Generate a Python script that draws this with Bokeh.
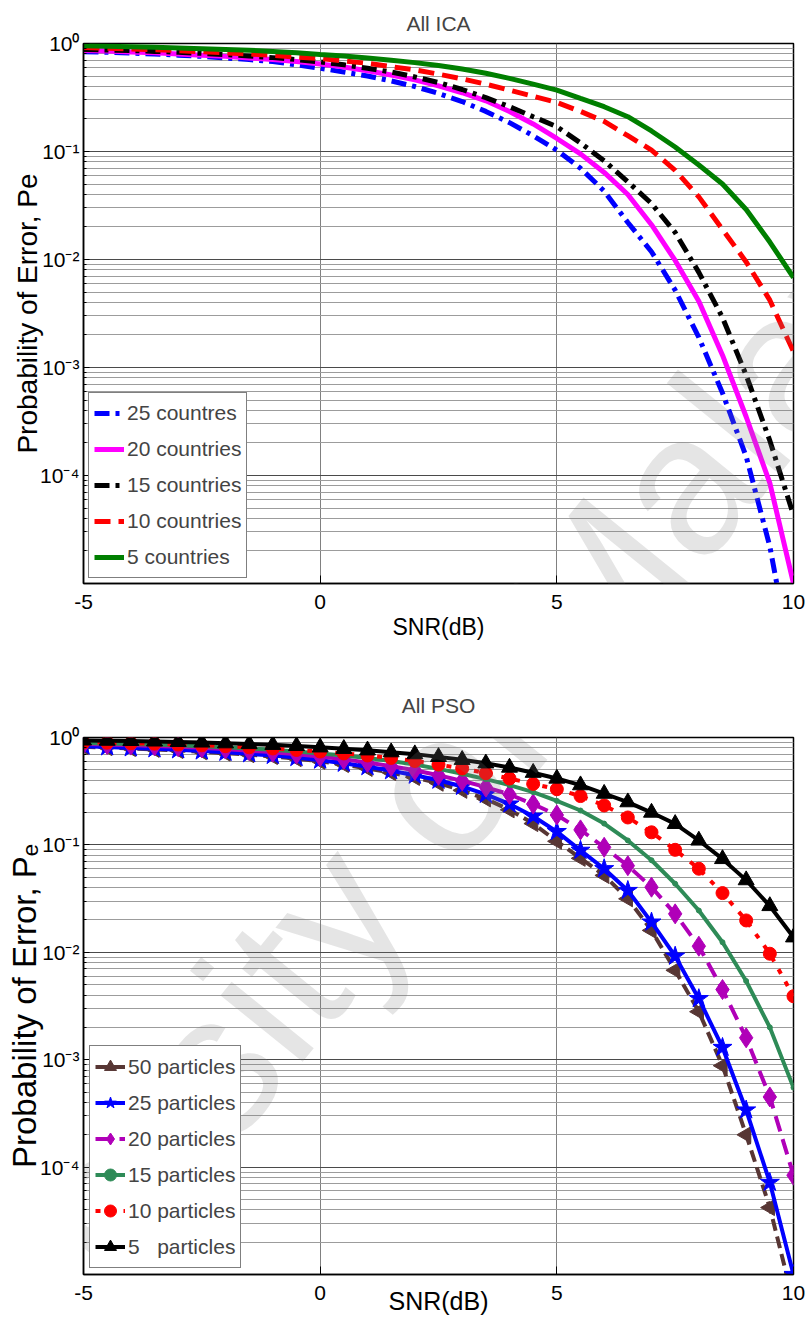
import math

from bokeh.embed import file_html
from bokeh.layouts import column
from bokeh.models import (CustomJSTickFormatter, FixedTicker, Label, Legend,
                          LegendItem, Range1d)
from bokeh.plotting import figure
from bokeh.resources import INLINE

# ---------------------------------------------------------------- data
snr_db = [-5.0, -4.5, -4.0, -3.5, -3.0, -2.5, -2.0, -1.5, -1.0, -0.5,
          0.0, 0.5, 1.0, 1.5, 2.0, 2.5, 3.0, 3.5, 4.0, 4.5,
          5.0, 5.5, 6.0, 6.5, 7.0, 7.5, 8.0, 8.5, 9.0, 9.5, 10.0]

# ICA: error probability for different numbers of countries
ica_25 = [0.84, 0.83, 0.815, 0.80, 0.78, 0.76, 0.735, 0.71, 0.68, 0.635,
          0.59, 0.545, 0.50, 0.45, 0.40, 0.345, 0.29, 0.235, 0.185, 0.14,
          0.103, 0.07, 0.043, 0.022, 0.0118, 0.0052, 0.0019, 0.00058, 0.00015,
          0.000022, 0.0000015]
ica_20 = [0.86, 0.85, 0.835, 0.82, 0.80, 0.78, 0.76, 0.735, 0.71, 0.68,
          0.645, 0.605, 0.56, 0.51, 0.46, 0.405, 0.35, 0.295, 0.235, 0.18,
          0.132, 0.095, 0.064, 0.04, 0.021, 0.0098, 0.0041, 0.0013, 0.00035,
          0.000085, 0.00001]
ica_15 = [0.88, 0.87, 0.86, 0.845, 0.83, 0.81, 0.79, 0.765, 0.74, 0.71,
          0.675, 0.635, 0.59, 0.545, 0.49, 0.435, 0.375, 0.315, 0.26, 0.21,
          0.17, 0.12, 0.082, 0.0525, 0.033, 0.0178, 0.0076, 0.0029, 0.00085,
          0.00021, 0.000043]
ica_10 = [0.92, 0.905, 0.89, 0.875, 0.86, 0.84, 0.82, 0.80, 0.775, 0.75,
          0.725, 0.69, 0.655, 0.61, 0.57, 0.52, 0.47, 0.42, 0.37, 0.325,
          0.285, 0.235, 0.19, 0.14, 0.103, 0.067, 0.038, 0.019, 0.0095,
          0.0042, 0.0014]
ica_5 = [0.955, 0.945, 0.935, 0.925, 0.91, 0.895, 0.88, 0.865, 0.845, 0.82,
         0.79, 0.765, 0.735, 0.70, 0.665, 0.625, 0.58, 0.53, 0.475, 0.42,
         0.37, 0.31, 0.26, 0.21, 0.155, 0.11, 0.075, 0.05, 0.029, 0.0145,
         0.0068]

# PSO: error probability for different swarm sizes
pso_50 = [0.82, 0.805, 0.79, 0.775, 0.757, 0.737, 0.715, 0.692, 0.665, 0.635,
          0.60, 0.56, 0.515, 0.47, 0.425, 0.375, 0.322, 0.268, 0.212, 0.158,
          0.108, 0.075, 0.052, 0.0315, 0.016, 0.0068, 0.0028, 0.00088, 0.0002,
          0.000042, 0.0000055]
pso_25 = [0.83, 0.817, 0.80, 0.785, 0.767, 0.748, 0.728, 0.705, 0.68, 0.65,
          0.615, 0.575, 0.535, 0.49, 0.445, 0.40, 0.35, 0.295, 0.24, 0.185,
          0.133, 0.089, 0.06, 0.0376, 0.0191, 0.0092, 0.0037, 0.0013, 0.00034,
          0.000072, 0.00001]
pso_20 = [0.87, 0.86, 0.85, 0.835, 0.82, 0.80, 0.78, 0.755, 0.73, 0.70,
          0.665, 0.625, 0.585, 0.54, 0.495, 0.445, 0.395, 0.345, 0.295, 0.24,
          0.19, 0.138, 0.095, 0.064, 0.0404, 0.0228, 0.0114, 0.0045, 0.0016,
          0.00045, 0.000084]
pso_15 = [0.89, 0.88, 0.87, 0.86, 0.845, 0.83, 0.81, 0.79, 0.77, 0.74,
          0.71, 0.68, 0.645, 0.605, 0.56, 0.51, 0.46, 0.41, 0.36, 0.31,
          0.257, 0.209, 0.158, 0.11, 0.072, 0.0435, 0.0245, 0.0124, 0.0054,
          0.002, 0.00055]
pso_10 = [0.90, 0.895, 0.885, 0.875, 0.86, 0.845, 0.83, 0.81, 0.79, 0.765,
          0.74, 0.71, 0.68, 0.645, 0.605, 0.56, 0.515, 0.465, 0.415, 0.37,
          0.33, 0.285, 0.233, 0.18, 0.131, 0.09, 0.06, 0.0356, 0.0198,
          0.0097, 0.0039]
pso_5 = [0.94, 0.935, 0.93, 0.92, 0.91, 0.90, 0.885, 0.87, 0.855, 0.835,
         0.81, 0.785, 0.76, 0.73, 0.70, 0.66, 0.62, 0.575, 0.525, 0.47,
         0.415, 0.36, 0.30, 0.25, 0.20, 0.157, 0.11, 0.074, 0.047, 0.027,
         0.0138]

ica_labels = ["25 countres", "20 countries", "15 countries", "10 countries",
              "5 countries"]
pso_labels = ["50 particles", "25 particles", "20 particles", "15 particles",
              "10 particles", "5\u00a0\u00a0\u00a0particles"]

x_ticks = [-5, 0, 5, 10]
y_ticks = [1e-4, 1e-3, 1e-2, 1e-1, 1.0]

# ---------------------------------------------------------------- styling
FONT = "Liberation Sans"

pow10_fmt = CustomJSTickFormatter(code="""
const sup = {'-': '\u207b', '0': '\u2070', '1': '\u00b9', '2': '\u00b2',
             '3': '\u00b3', '4': '\u2074', '5': '\u2075'};
const e = Math.round(Math.log10(tick));
return '10' + String(e).split('').map(c => sup[c]).join('');
""")
plain_fmt = CustomJSTickFormatter(code="return String(tick);")


def minor_decades():
    out = []
    for e in range(-5, 0):
        for k in range(2, 10):
            out.append(k * 10.0 ** e)
    return out


def base_figure(title, height, b_top, b_bottom, b_left, b_right,
                ylabel, ylabel_size, xlabel_size, xlabel_standoff,
                title_standoff):
    p = figure(width=809, height=height, y_axis_type="log",
               x_range=Range1d(-5, 10), y_range=Range1d(1e-5, 1),
               output_backend="svg", toolbar_location=None,
               min_border_top=b_top, min_border_bottom=b_bottom,
               min_border_left=b_left, min_border_right=b_right)
    p.background_fill_color = "white"
    p.border_fill_color = "white"
    p.outline_line_color = "black"
    p.outline_line_width = 1.5

    p.title.text = title
    p.title.align = "center"
    p.title.text_font = FONT
    p.title.text_font_size = "21px"
    p.title.text_font_style = "normal"
    p.title.standoff = title_standoff

    yticker = FixedTicker(ticks=y_ticks, minor_ticks=minor_decades())
    xticker = FixedTicker(ticks=x_ticks, minor_ticks=[])

    ax = p.yaxis[0]
    ax.ticker = yticker
    ax.formatter = pow10_fmt
    ax.major_label_text_font = FONT
    ax.major_label_text_font_size = "21px"
    ax.major_label_standoff = 4
    ax.axis_label = ylabel
    ax.axis_label_text_font = FONT
    ax.axis_label_text_font_size = ylabel_size
    ax.axis_label_text_font_style = "normal"
    ax.axis_label_standoff = -6

    bx = p.xaxis[0]
    bx.ticker = xticker
    bx.formatter = plain_fmt
    bx.major_label_text_font = FONT
    bx.major_label_text_font_size = "21px"
    bx.major_label_standoff = 11
    bx.axis_label = "SNR(dB)"
    bx.axis_label_text_font = FONT
    bx.axis_label_text_font_size = xlabel_size
    bx.axis_label_text_font_style = "normal"
    bx.axis_label_standoff = xlabel_standoff

    for a in (ax, bx):
        a.axis_line_color = "black"
        a.axis_line_width = 1.5
        a.major_tick_line_color = "black"
        a.minor_tick_line_color = "black"
        a.major_tick_out = 0
        a.minor_tick_out = 0
        a.major_label_text_color = "black"
        a.axis_label_text_color = "black"
    ax.major_tick_in = 6
    ax.minor_tick_in = 3
    bx.major_tick_in = 8
    bx.minor_tick_in = 0

    p.ygrid.ticker = yticker
    p.ygrid.grid_line_color = "#4a4a4a"
    p.ygrid.grid_line_width = 1
    p.ygrid.minor_grid_line_color = "#9c9c9c"
    p.ygrid.minor_grid_line_width = 1
    p.xgrid.ticker = xticker
    p.xgrid.grid_line_color = "#606060"
    p.xgrid.grid_line_width = 0.8
    return p


def watermark(p, x, y):
    p.add_layout(Label(x=x, y=y, text="University of Malaya",
                       angle=math.radians(51), text_font=FONT,
                       text_font_size="200px", text_color="#7f7f7f",
                       text_alpha=0.2, text_align="center",
                       text_baseline="middle"))


# ---------------------------------------------------------------- ICA panel
p1 = base_figure("All ICA", 655, 43, 72, 82, 16,
                 "Probability of Error, Pe", "28px", "23px", 2, 18)

ica_styles = [
    (ica_25, "#0000ff", "15 6 4 6"),
    (ica_20, "#ff00ff", "solid"),
    (ica_15, "#000000", "15 6 4 6"),
    (ica_10, "#ff0000", "16 8"),
    (ica_5, "#007f00", "solid"),
]
items1 = []
for (vals, col, dash), lab in zip(ica_styles, ica_labels):
    r = p1.line(snr_db, vals, line_color=col, line_width=5, line_dash=dash)
    items1.append(LegendItem(label=lab, renderers=[r]))

leg1 = Legend(items=items1, location="bottom_left", margin=5, padding=5,
              spacing=6, glyph_width=30, glyph_height=30,
              label_standoff=3, label_text_font=FONT,
              label_text_font_size="21px", border_line_color="black",
              border_line_width=1.2, background_fill_alpha=1.0)
p1.add_layout(leg1, "center")
watermark(p1, 1.29, 10 ** -7.52)

# ---------------------------------------------------------------- PSO panel
p2 = base_figure("All PSO", 672, 82, 53, 83, 15,
                 "Probability of Error, P\u2091", "33px", "25px", -16, 42)

pso_styles = [
    (pso_50, "#573634", "12 6", "triangle", 16, math.pi / 2),
    (pso_25, "#0000ff", "solid", "star", 20, 0.0),
    (pso_20, "#b000b8", "16 8", "diamond", 20, 0.0),
    (pso_15, "#2e8b57", "solid", "circle", 5, 0.0),
    (pso_10, "#ff0000", "5 9", "circle", 13, 0.0),
    (pso_5, "#000000", "solid", "triangle", 16, 0.0),
]
items2 = []
for (vals, col, dash, mk, sz, ang), lab in zip(pso_styles, pso_labels):
    rl = p2.line(snr_db, vals, line_color=col, line_width=4, line_dash=dash)
    rm = p2.scatter(snr_db, vals, marker=mk, size=sz, angle=ang,
                    fill_color=col, line_color=col)
    items2.append(LegendItem(label=lab, renderers=[rl, rm]))

leg2 = Legend(items=items2, location="bottom_left", margin=6, padding=5,
              spacing=5, glyph_width=30, glyph_height=31,
              label_standoff=3, label_text_font=FONT,
              label_text_font_size="21px", border_line_color="black",
              border_line_width=1.2, background_fill_alpha=1.0)
p2.add_layout(leg2, "center")
watermark(p2, 1.27, 10 ** -1.1)

page = column(p1, p2, spacing=0)
open("out.html", "w").write(file_html(page, INLINE))
